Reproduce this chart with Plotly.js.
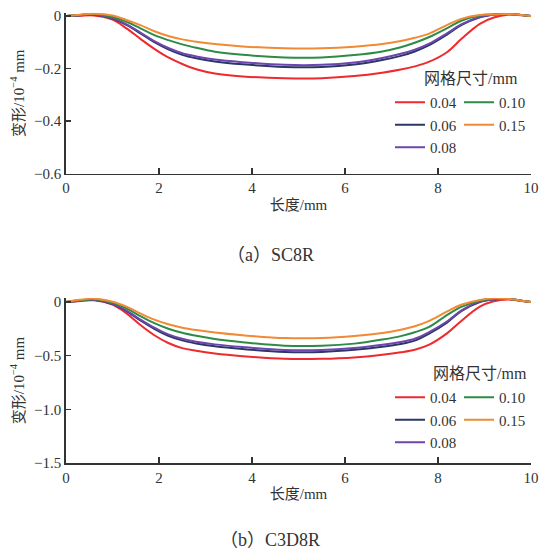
<!DOCTYPE html>
<html>
<head>
<meta charset="utf-8">
<script src="https://cdn.plot.ly/plotly-3.0.1.min.js"></script>
<style>html,body{margin:0;padding:0;background:#fff;}#chart{width:540px;height:549px;}</style>
</head>
<body>
<div id="chart"></div>
<script>
// Shared x positions (length, mm)
const xLen = [0, 0.3, 0.6, 1.0, 1.3, 1.6, 1.9, 2.2, 2.5, 2.8, 3.2, 3.8, 4.7, 5.5, 6.2, 6.8, 7.2, 7.5, 7.8, 8.2, 8.5, 8.9, 9.2, 9.5, 9.8, 10];

// Mesh sizes (legend labels)
const meshSizes = ['0.04', '0.06', '0.08', '0.10', '0.15'];
const meshColors = ['#ee2a2e', '#2b3766', '#6c46ac', '#2e8b45', '#f28a35'];

// (a) SC8R deformation (1e-4 mm)
const sc8r_004 = [0, 0.001, 0.002, -0.014, -0.047, -0.087, -0.125, -0.158, -0.183, -0.203, -0.219, -0.230, -0.237, -0.237, -0.229, -0.216, -0.204, -0.192, -0.175, -0.137, -0.088, -0.030, -0.006, 0.005, 0.003, 0];
const sc8r_006 = [0, 0.003, 0.006, -0.010, -0.034, -0.066, -0.100, -0.127, -0.148, -0.161, -0.173, -0.184, -0.194, -0.194, -0.185, -0.168, -0.152, -0.135, -0.112, -0.070, -0.035, -0.005, 0.005, 0.008, 0.004, 0];
const sc8r_008 = [0, 0.003, 0.006, -0.009, -0.032, -0.063, -0.096, -0.122, -0.142, -0.154, -0.166, -0.176, -0.186, -0.186, -0.177, -0.160, -0.144, -0.128, -0.106, -0.065, -0.032, -0.004, 0.006, 0.008, 0.004, 0];
const sc8r_010 = [0, 0.004, 0.008, -0.004, -0.022, -0.047, -0.073, -0.092, -0.108, -0.121, -0.136, -0.148, -0.158, -0.158, -0.149, -0.135, -0.119, -0.102, -0.081, -0.046, -0.018, 0.002, 0.006, 0.008, 0.004, 0];
const sc8r_015 = [0, 0.005, 0.009, 0.002, -0.015, -0.035, -0.058, -0.076, -0.089, -0.098, -0.107, -0.116, -0.123, -0.123, -0.117, -0.107, -0.095, -0.083, -0.068, -0.034, -0.011, 0.004, 0.006, 0.008, 0.004, 0];

// (b) C3D8R deformation (1e-4 mm)
const c3d8r_004 = [0, 0.010, 0.016, -0.025, -0.106, -0.215, -0.310, -0.382, -0.430, -0.455, -0.480, -0.505, -0.530, -0.530, -0.517, -0.492, -0.469, -0.445, -0.400, -0.290, -0.177, -0.044, 0.006, 0.022, 0.010, 0];
const c3d8r_006 = [0, 0.012, 0.020, -0.020, -0.085, -0.172, -0.250, -0.315, -0.358, -0.386, -0.412, -0.438, -0.465, -0.465, -0.446, -0.418, -0.392, -0.360, -0.297, -0.190, -0.085, 0.000, 0.024, 0.030, 0.012, 0];
const c3d8r_008 = [0, 0.012, 0.020, -0.018, -0.081, -0.164, -0.240, -0.302, -0.343, -0.370, -0.395, -0.420, -0.447, -0.447, -0.428, -0.398, -0.372, -0.343, -0.283, -0.180, -0.080, 0.003, 0.025, 0.030, 0.012, 0];
const c3d8r_010 = [0, 0.015, 0.025, -0.008, -0.060, -0.132, -0.197, -0.249, -0.287, -0.315, -0.345, -0.375, -0.408, -0.408, -0.388, -0.350, -0.318, -0.282, -0.235, -0.120, -0.045, 0.012, 0.030, 0.030, 0.012, 0];
const c3d8r_015 = [0, 0.020, 0.031, 0.002, -0.044, -0.107, -0.165, -0.208, -0.240, -0.262, -0.285, -0.310, -0.336, -0.336, -0.318, -0.290, -0.258, -0.226, -0.178, -0.088, -0.026, 0.019, 0.034, 0.030, 0.012, 0];

// Tick labels
const xTicks = [0, 2, 4, 6, 8, 10];
const yTicksA = [0, -0.2, -0.4, -0.6];
const yTickTextA = ['0', '−0.2', '−0.4', '−0.6'];
const yTicksB = [0, -0.5, -1.0, -1.5];
const yTickTextB = ['0', '−0.5', '−1.0', '−1.5'];

const seriesA = [sc8r_004, sc8r_006, sc8r_008, sc8r_010, sc8r_015];
const seriesB = [c3d8r_004, c3d8r_006, c3d8r_008, c3d8r_010, c3d8r_015];

const FONT = "Liberation Serif, Noto Sans CJK SC, serif";
const TXT = '#333333';

// legend groups: first column 0.04/0.06/0.08, second column 0.10/0.15
const legendIdxA = ['legend', 'legend', 'legend', 'legend2', 'legend2'];
const legendIdxB = ['legend3', 'legend3', 'legend3', 'legend4', 'legend4'];

const traces = [];
meshSizes.forEach((m, i) => {
  traces.push({
    x: xLen, y: seriesA[i], type: 'scatter', mode: 'lines', name: m,
    line: {color: meshColors[i], width: 2, shape: 'spline', smoothing: 1},
    xaxis: 'x', yaxis: 'y', legend: legendIdxA[i]
  });
});
meshSizes.forEach((m, i) => {
  traces.push({
    x: xLen, y: seriesB[i], type: 'scatter', mode: 'lines', name: m,
    line: {color: meshColors[i], width: 2, shape: 'spline', smoothing: 1},
    xaxis: 'x2', yaxis: 'y2', legend: legendIdxB[i]
  });
});

const W = 540, H = 549;
const px = v => v / W;
const py = v => (H - v) / H;

function xAxis(anchor) {
  return {
    domain: [px(66), px(531)], anchor: anchor, range: [0, 10],
    tickvals: xTicks, ticktext: xTicks.map(String),
    ticks: 'inside', ticklen: 6, tickwidth: 1.2, tickcolor: '#333',
    showline: true, linecolor: '#333', linewidth: 1.8,
    showgrid: false, zeroline: false, mirror: false,
    tickfont: {family: FONT, size: 15, color: TXT},
    title: {text: '长度/mm', font: {family: FONT, size: 15, color: TXT}, standoff: 4},
    fixedrange: true
  };
}
function yAxis(range, domain, anchor, tv, tt) {
  return {
    domain: domain, anchor: anchor, range: range,
    tickvals: tv, ticktext: tt,
    ticks: 'inside', ticklen: 5, tickwidth: 1.2, tickcolor: '#333',
    showline: true, linecolor: '#333', linewidth: 1.8,
    showgrid: false, zeroline: false,
    tickfont: {family: FONT, size: 15, color: TXT},
    title: {text: '变形/10<sup>−4</sup> mm', font: {family: FONT, size: 15, color: TXT}, standoff: 6},
    fixedrange: true
  };
}

function legendAt(xpix, ypix) {
  return {
    x: px(xpix), y: py(ypix), xref: 'paper', yref: 'paper',
    xanchor: 'left', yanchor: 'top', orientation: 'v',
    bgcolor: 'rgba(0,0,0,0)', borderwidth: 0,
    font: {family: FONT, size: 15, color: TXT},
    itemwidth: 30, tracegroupgap: 0
  };
}

const layout = {
  width: W, height: H,
  margin: {l: 0, r: 0, t: 0, b: 0},
  paper_bgcolor: '#fff', plot_bgcolor: '#fff',
  showlegend: true,
  xaxis: xAxis('y'),
  yaxis: yAxis([-0.6, 0.012], [py(173.5), py(12.85)], 'x', yTicksA, yTickTextA),
  xaxis2: xAxis('y2'),
  yaxis2: yAxis([-1.5, 0.036], [py(463), py(298.1)], 'x2', yTicksB, yTickTextB),
  legend: legendAt(390, 86),
  legend2: legendAt(459, 86),
  legend3: legendAt(390, 381),
  legend4: legendAt(459, 381),
  annotations: [
    {text: '网格尺寸/mm', xref: 'paper', yref: 'paper', x: px(422), y: py(78), xanchor: 'left', yanchor: 'middle', showarrow: false, font: {family: FONT, size: 16, color: TXT}},
    {text: '网格尺寸/mm', xref: 'paper', yref: 'paper', x: px(431), y: py(374), xanchor: 'left', yanchor: 'middle', showarrow: false, font: {family: FONT, size: 16, color: TXT}},
    {text: '（a）SC8R', xref: 'paper', yref: 'paper', x: 0.5, y: py(255), xanchor: 'center', yanchor: 'middle', showarrow: false, font: {family: FONT, size: 18, color: TXT}},
    {text: '（b）C3D8R', xref: 'paper', yref: 'paper', x: 0.5, y: py(540), xanchor: 'center', yanchor: 'middle', showarrow: false, font: {family: FONT, size: 18, color: TXT}}
  ]
};

Plotly.newPlot('chart', traces, layout, {displayModeBar: false, staticPlot: true});
</script>
</body>
</html>
